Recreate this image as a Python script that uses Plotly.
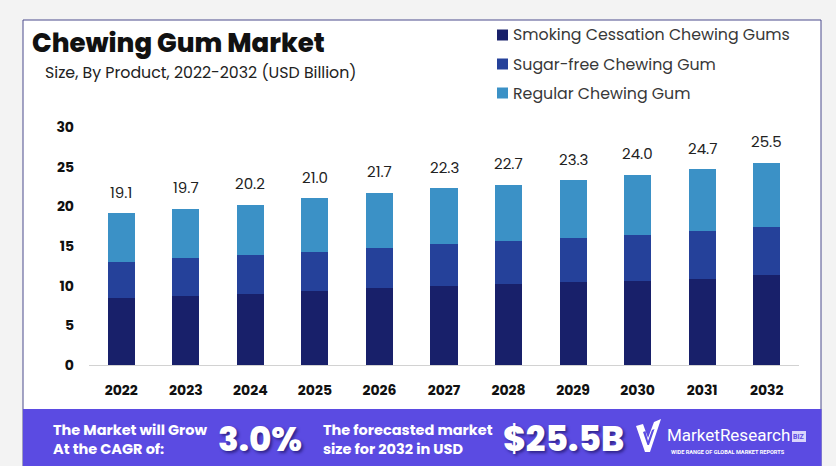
import plotly.graph_objects as go

W, H = 836, 466

years = ["2022", "2023", "2024", "2025", "2026", "2027", "2028", "2029", "2030", "2031", "2032"]
smoking = [8.5, 8.75, 8.95, 9.3, 9.7, 10.0, 10.2, 10.5, 10.65, 10.9, 11.3]
sugar_free = [4.5, 4.7, 4.95, 5.0, 5.1, 5.3, 5.4, 5.5, 5.75, 5.95, 6.1]
regular = [6.1, 6.25, 6.3, 6.7, 6.9, 7.0, 7.1, 7.3, 7.6, 7.85, 8.1]
totals = [19.1, 19.7, 20.2, 21.0, 21.7, 22.3, 22.7, 23.3, 24.0, 24.7, 25.5]
series_names = ["Smoking Cessation Chewing Gums", "Sugar-free Chewing Gum", "Regular Chewing Gum"]
colors = ["#18206a", "#25419a", "#3b91c6"]
y_ticks = [0, 5, 10, 15, 20, 25, 30]

FONT = "Poppins, Inter, Lato, sans-serif"


def px(x):
    return x / W


def py(y):
    return 1 - y / H


fig = go.Figure()
for name, vals, col in zip(series_names, [smoking, sugar_free, regular], colors):
    fig.add_trace(go.Bar(x=years, y=vals, name=name, marker=dict(color=col, line=dict(width=0)),
                         showlegend=False, hoverinfo="x+y+name"))

# total labels above bars (x given as category index)
for i, (s, m, r, t) in enumerate(zip(smoking, sugar_free, regular, totals)):
    fig.add_annotation(x=i, y=s + m + r, xref="x", yref="y", text=f"{t:.1f}", showarrow=False,
                       yanchor="middle", yshift=21, font=dict(family=FONT, size=15, color="#222"))

shapes = []
# panel background + border
shapes.append(dict(type="rect", xref="paper", yref="paper", x0=px(23), x1=px(821), y0=py(466), y1=py(20),
                   fillcolor="white", line=dict(color="#4b4b8c", width=1), layer="below"))
# bottom banner
shapes.append(dict(type="rect", xref="paper", yref="paper", x0=px(23), x1=px(821.5), y0=0, y1=py(409),
                   fillcolor="#5b4be2", line=dict(width=0), layer="above"))

# manual legend squares
leg_rows = [35, 64, 93]
for yrow, col in zip(leg_rows, colors):
    shapes.append(dict(type="rect", xref="paper", yref="paper", x0=px(497), x1=px(508),
                       y0=py(yrow + 5.5), y1=py(yrow - 5.5), fillcolor=col, line=dict(width=0)))

# logo check mark
def path(points):
    return "M" + " L".join(f"{px(a):.5f},{py(b):.5f}" for a, b in points) + " Z"

shapes.append(dict(type="path", xref="paper", yref="paper",
                   path=path([(636, 426), (643, 424), (648, 438), (654, 422), (661, 419), (650, 452), (645, 452)]),
                   fillcolor="white", line=dict(width=0)))
shapes.append(dict(type="path", xref="paper", yref="paper",
                   path=path([(643, 432), (645.5, 431), (648, 441), (652, 430), (654.5, 429), (649, 445), (647.5, 445)]),
                   fillcolor="#5b4be2", line=dict(width=0)))
# BIZ box
shapes.append(dict(type="rect", xref="paper", yref="paper", x0=px(792), x1=px(806), y0=py(442), y1=py(431),
                   fillcolor="#d9d4fb", line=dict(width=0)))

annotations = []
annotations.append(dict(x=px(30), y=py(43), xref="paper", yref="paper", xanchor="left", yanchor="middle",
                        text="Chewing Gum Market", showarrow=False,
                        font=dict(family=FONT, size=26, color="#111", weight=800)))
annotations.append(dict(x=px(43), y=py(72), xref="paper", yref="paper", xanchor="left", yanchor="middle",
                        text="Size, By Product, 2022-2032 (USD Billion)", showarrow=False,
                        font=dict(family=FONT, size=15.8, color="#222")))
for yrow, name in zip(leg_rows, series_names):
    annotations.append(dict(x=px(511), y=py(yrow), xref="paper", yref="paper", xanchor="left", yanchor="middle",
                            text=name, showarrow=False, font=dict(family=FONT, size=15.8, color="#383838")))

white_bold = dict(family=FONT, size=14.5, color="white", weight=700)
annotations.append(dict(x=px(51), y=py(439), xref="paper", yref="paper", xanchor="left", yanchor="middle",
                        text="The Market will Grow<br>At the CAGR of:", align="left", showarrow=False,
                        font=white_bold))
annotations.append(dict(x=px(216), y=py(439), xref="paper", yref="paper", xanchor="left", yanchor="middle",
                        text="3.0%", showarrow=False,
                        font=dict(family=FONT, size=34, color="white", weight=800,
                                  shadow="2px 2px 3px rgba(20,10,80,0.6)")))
annotations.append(dict(x=px(321), y=py(439), xref="paper", yref="paper", xanchor="left", yanchor="middle",
                        text="The forecasted market<br>size for 2032 in USD", align="left", showarrow=False,
                        font=white_bold))
annotations.append(dict(x=px(501), y=py(439), xref="paper", yref="paper", xanchor="left", yanchor="middle",
                        text="$25.5B", showarrow=False,
                        font=dict(family=FONT, size=34.5, color="white", weight=800,
                                  shadow="2px 2px 3px rgba(20,10,80,0.6)")))
annotations.append(dict(x=px(665), y=py(435), xref="paper", yref="paper", xanchor="left", yanchor="middle",
                        text="MarketResearch", showarrow=False,
                        font=dict(family="Roboto, sans-serif", size=17, color="white")))
annotations.append(dict(x=px(799), y=py(436.5), xref="paper", yref="paper", xanchor="center", yanchor="middle",
                        text="BIZ", showarrow=False,
                        font=dict(family="Roboto, sans-serif", size=7, color="#5b4be2", weight=700)))
annotations.append(dict(x=px(669), y=py(452), xref="paper", yref="paper", xanchor="left", yanchor="middle",
                        text="WIDE RANGE OF GLOBAL MARKET REPORTS", showarrow=False,
                        font=dict(family="Roboto, sans-serif", size=5.6, color="white", weight=700)))

for a in annotations:
    fig.add_annotation(**a)

fig.update_layout(
    width=W, height=H,
    margin=dict(l=0, r=0, t=0, b=0, pad=0, autoexpand=False),
    paper_bgcolor="#f3f3f3",
    plot_bgcolor="rgba(0,0,0,0)",
    barmode="stack",
    bargap=0.58,
    shapes=shapes,
    font=dict(family=FONT),
    xaxis=dict(type="category", categoryorder="array", categoryarray=years, range=[-0.5, len(years) - 0.5],
               domain=[px(89), px(799)], showgrid=False, zeroline=False, showline=True,
               linecolor="#d2d2d2", linewidth=1, ticks="", ticklabelstandoff=12, automargin=False,
               tickfont=dict(family=FONT, size=14, color="#111", weight=700), fixedrange=True),
    yaxis=dict(domain=[py(365), py(127)], range=[0, 30], tickvals=y_ticks, showgrid=False,
               zeroline=False, showline=False, ticks="", ticklabelstandoff=14, automargin=False,
               tickfont=dict(family=FONT, size=14, color="#111", weight=700), fixedrange=True),
)

fig.write_html("out.html")
